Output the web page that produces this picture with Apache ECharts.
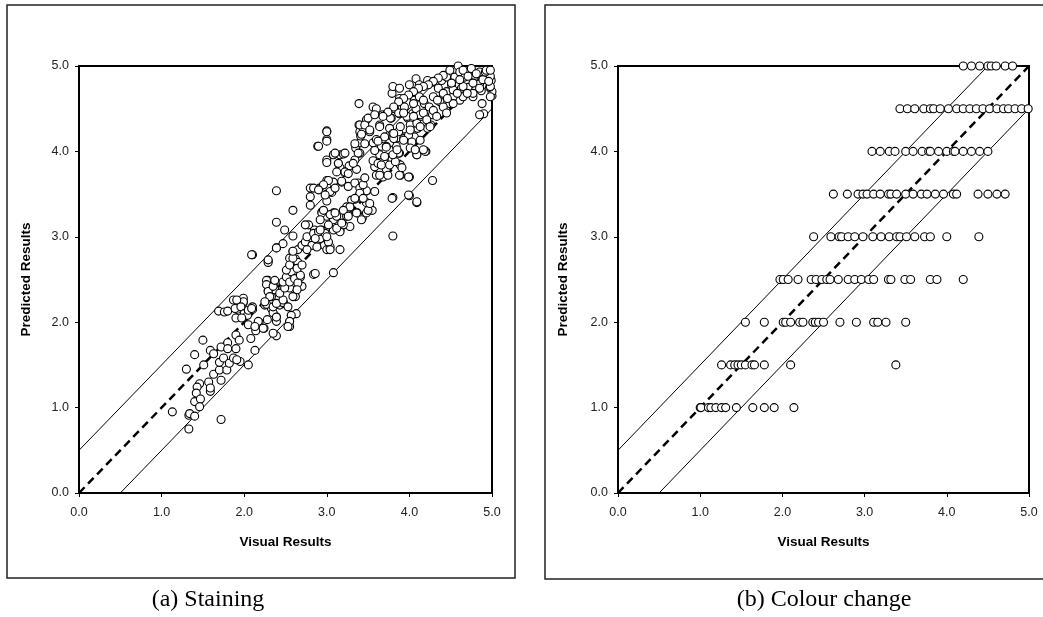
<!DOCTYPE html>
<html>
<head>
<meta charset="utf-8">
<script src="https://cdn.jsdelivr.net/npm/echarts@6/dist/echarts.min.js"></script>
<style>
html,body{margin:0;padding:0;background:#fff;}
#chart{width:1043px;height:617px;}
</style>
</head>
<body>
<div id="chart"></div>
<script>
// ---- Data ----
var axisTicks = [0, 1, 2, 3, 4, 5];
var captionA = "(a) Staining";
var captionB = "(b) Colour change";
var xAxisTitle = "Visual Results";
var yAxisTitle = "Predicted Results";

// Panel (a) Staining: [visual, predicted]
var stainingPoints = [
[1.13,0.95],[1.33,0.91],[1.34,0.93],[1.40,0.90],[1.33,0.75],[1.72,0.86],[1.30,1.45],[1.40,1.62],[1.50,1.79],[1.51,1.50],
[1.46,1.28],[1.43,1.24],[1.42,1.17],[1.40,1.07],[1.47,1.10],[1.46,1.01],[1.57,1.30],[1.59,1.19],[1.59,1.23],[1.59,1.67],
[1.63,1.63],[1.63,1.39],[1.72,1.32],[1.70,1.44],[1.70,1.53],[1.75,1.58],[1.72,1.71],[1.80,1.76],[1.80,1.69],[1.79,1.44],
[1.82,1.52],[1.87,1.58],[1.90,1.69],[1.90,1.85],[1.94,1.79],[1.95,1.54],[1.91,1.56],[2.05,1.50],[2.08,1.81],[2.13,1.67],
[2.14,1.90],[2.24,1.93],[2.39,1.84],[2.18,2.00],[2.05,1.97],[1.99,2.06],[1.90,2.05],[1.91,2.15],[1.99,2.23],[1.69,2.13],
[1.76,2.12],[1.80,2.13],[2.10,2.15],[2.28,2.03],[2.39,2.06],[2.39,2.01],[2.55,1.95],[2.55,2.01],[2.57,2.08],[2.63,2.10],
[2.25,2.20],[2.33,2.16],[2.35,2.11],[2.43,2.20],[2.48,2.22],[2.39,3.54],[2.39,3.17],[2.39,2.87],[2.10,2.79],[2.29,2.72],
[2.29,2.70],[2.59,3.31],[2.49,3.08],[2.59,3.01],[2.89,4.06],[3.00,4.24],[3.00,4.14],[3.00,3.90],[3.00,3.87],[3.39,4.56],
[3.80,3.01],[3.80,3.46],[4.00,3.48],[4.09,3.40],[4.28,3.66],[4.20,4.00],[4.09,3.96],[4.00,3.70],[3.89,3.72],[3.08,2.58],
[2.84,2.56],[4.90,4.44],[4.88,4.56],[5.00,4.65],[5.00,4.70],[2.29,2.49],[2.36,2.44],[2.51,2.50],[2.62,2.30],[2.47,2.23],
[2.55,2.40],[2.68,2.53],[2.70,2.42],[2.53,2.59],[2.59,2.65],[2.65,2.57],[2.55,2.75],[2.62,2.74],[2.65,2.70],[2.59,2.83],
[2.74,2.92],[2.70,2.89],[2.82,2.98],[2.90,3.03],[2.92,2.96],[2.97,2.90],[3.00,2.85],[3.04,2.88],[2.94,3.08],[2.85,3.08],
[3.02,3.12],[3.08,3.08],[3.16,2.85],[3.16,3.08],[3.20,3.14],[2.94,3.29],[3.00,3.24],[3.08,3.28],[3.08,3.20],[3.00,3.42],
[3.00,3.50],[3.06,3.52],[3.09,3.57],[2.80,3.57],[2.91,3.57],[2.80,3.47],[3.00,3.66],[3.08,3.96],[3.14,3.86],[3.16,3.96],
[3.20,3.97],[3.08,3.64],[3.18,3.64],[3.16,3.81],[3.22,3.75],[3.27,3.83],[3.35,4.04],[3.40,4.10],[3.41,4.18],[3.39,4.31],
[3.40,4.23],[3.44,4.27],[3.48,4.37],[3.52,4.23],[3.56,4.52],[3.60,4.50],[3.64,4.31],[3.68,4.43],[3.56,4.10],[3.60,4.14],
[3.66,4.06],[3.40,3.98],[3.34,3.90],[3.36,3.79],[3.38,3.63],[3.44,3.50],[3.48,3.54],[3.40,3.50],[3.34,3.44],[3.28,3.35],
[3.24,3.24],[3.28,3.12],[3.37,3.28],[3.43,3.22],[3.48,3.40],[3.55,3.31],[3.48,3.28],[3.58,3.82],[3.64,3.96],[3.60,3.72],
[3.68,3.70],[3.72,3.79],[3.76,3.93],[3.79,3.90],[3.84,4.06],[3.88,3.98],[3.89,3.84],[3.76,4.10],[3.76,4.27],[3.80,4.21],
[3.88,4.16],[3.94,4.17],[4.00,4.14],[4.06,4.17],[3.72,4.43],[3.78,4.39],[3.82,4.50],[3.88,4.44],[3.94,4.52],[3.98,4.39],
[4.04,4.44],[4.08,4.50],[4.06,4.60],[4.12,4.64],[4.18,4.56],[4.24,4.52],[4.28,4.43],[4.26,4.31],[4.22,4.27],[4.10,4.27],
[4.04,4.33],[4.14,4.41],[3.79,4.68],[3.80,4.76],[3.88,4.74],[3.88,4.62],[4.00,4.78],[4.08,4.85],[4.12,4.78],[4.22,4.83],
[4.28,4.81],[4.35,4.74],[4.39,4.83],[4.45,4.87],[4.51,4.78],[4.55,4.87],[4.59,5.00],[4.61,4.93],[4.67,4.87],[4.73,4.93],
[4.79,4.89],[4.85,4.93],[4.93,4.89],[4.99,4.83],[4.85,4.79],[4.87,4.71],[4.97,4.75],[4.77,4.64],[4.71,4.75],[4.63,4.74],
[4.61,4.60],[4.53,4.64],[4.49,4.56],[4.41,4.64],[4.37,4.58],[4.45,4.70],[4.65,4.95],[4.75,4.97],[1.87,2.26],[1.99,2.28],
[1.99,2.24],[2.10,2.18],[2.27,2.21],[2.33,2.30],[2.37,2.38],[2.29,2.37],[2.31,2.42],[1.91,2.26],[1.89,2.16],[1.96,2.18],
[2.00,2.10],[2.04,2.08],[2.05,2.14],[1.97,2.05],[2.09,2.16],[2.17,2.01],[2.23,1.93],[2.13,1.95],[2.27,2.49],[2.27,2.44],
[2.29,2.36],[2.35,2.42],[2.37,2.49],[2.31,2.30],[2.25,2.24],[2.35,2.18],[2.39,2.22],[2.47,2.26],[2.43,2.34],[2.49,2.40],
[2.47,2.47],[2.51,2.53],[2.57,2.59],[2.55,2.47],[2.61,2.51],[2.65,2.46],[2.68,2.55],[2.64,2.38],[2.59,2.30],[2.53,2.18],
[2.57,2.08],[2.55,2.01],[2.53,1.95],[2.39,2.06],[2.35,1.87],[2.51,2.61],[2.55,2.67],[2.59,2.75],[2.65,2.85],[2.59,2.83],
[2.70,2.90],[2.74,2.94],[2.76,3.00],[2.82,2.90],[2.88,2.88],[2.92,2.98],[2.84,3.04],[2.90,3.06],[2.98,3.04],[3.02,2.94],
[3.04,2.85],[2.78,3.14],[2.76,2.85],[2.86,2.57],[2.64,2.63],[2.70,2.67],[2.47,2.92],[2.39,2.87],[2.29,2.73],[2.09,2.79],
[2.80,3.37],[2.94,3.28],[3.04,3.26],[3.12,3.24],[3.24,3.35],[3.26,3.26],[3.30,3.43],[3.16,3.06],[3.20,3.14],[2.74,3.14],
[3.00,4.23],[3.00,4.12],[2.90,4.06],[3.10,3.98],[3.22,3.98],[3.14,3.86],[3.12,3.76],[3.22,3.76],[3.26,3.74],[3.32,3.86],
[3.38,3.98],[3.40,4.31],[3.46,4.31],[3.42,4.20],[3.34,4.09],[3.46,4.09],[3.52,4.25],[3.50,4.39],[3.58,4.43],[3.64,4.29],
[3.70,4.17],[3.62,4.12],[3.58,4.01],[3.56,3.89],[3.62,3.86],[3.66,3.84],[3.64,3.72],[3.74,3.72],[3.76,3.84],[3.83,3.88],
[3.87,3.98],[3.88,3.72],[3.99,3.70],[3.91,3.81],[3.80,3.96],[3.72,4.06],[3.70,3.94],[3.81,4.15],[3.87,4.23],[3.93,4.15],
[3.99,4.19],[4.03,4.11],[4.09,3.96],[4.19,4.00],[3.77,4.39],[3.87,4.45],[3.97,4.41],[4.01,4.31],[4.09,4.33],[4.13,4.43],
[3.02,3.66],[2.96,3.61],[2.84,3.57],[2.90,3.55],[3.04,3.53],[3.10,3.57],[3.18,3.65],[3.26,3.59],[3.34,3.63],[3.40,3.57],
[3.44,3.61],[3.46,3.69],[3.40,3.51],[3.44,3.45],[3.34,3.45],[3.28,3.35],[3.20,3.31],[3.26,3.24],[3.36,3.28],[3.42,3.20],
[3.50,3.31],[3.52,3.39],[3.58,3.53],[3.79,3.45],[3.99,3.49],[4.09,3.41],[2.98,3.49],[2.96,3.31],[3.10,3.28],[2.92,3.20],
[3.02,3.14],[2.92,3.08],[2.86,2.98],[3.00,3.00],[3.12,3.10],[3.18,3.16],[4.49,4.95],[4.41,4.89],[4.35,4.86],[4.29,4.82],
[4.23,4.78],[4.17,4.76],[4.11,4.74],[4.05,4.70],[3.99,4.66],[3.93,4.62],[3.87,4.58],[3.81,4.52],[3.74,4.46],[3.68,4.41],
[4.05,4.56],[4.17,4.60],[4.29,4.64],[4.41,4.68],[4.53,4.72],[4.65,4.76],[4.77,4.80],[4.89,4.84],[4.98,4.88],[4.92,4.93],
[4.81,4.91],[4.71,4.88],[4.61,4.84],[4.51,4.80],[3.93,4.45],[4.05,4.41],[4.17,4.45],[4.29,4.48],[4.41,4.52],[4.53,4.56],
[4.65,4.64],[4.77,4.68],[4.85,4.74],[4.98,4.76],[3.89,4.29],[4.01,4.25],[4.13,4.29],[4.21,4.37],[4.33,4.41],[4.45,4.45],
[3.81,4.21],[3.93,4.13],[3.72,4.05],[3.85,4.02],[4.01,4.04],[4.13,4.13],[4.85,4.43],[4.98,4.64],[4.25,4.29],[4.17,4.02],
[4.07,4.02],[4.93,4.95],[4.98,4.95],[4.96,4.82],[4.70,4.68],[4.58,4.68],[4.46,4.62],[4.34,4.60]
];

// Panel (b) Colour change: predicted levels and the visual values at each level
var colourLevels = [5.0, 4.5, 4.0, 3.5, 3.0, 2.5, 2.0, 1.5, 1.0];
var colourVisual = [
[4.20,4.30,4.40,4.50,4.54,4.60,4.71,4.80],
[3.43,3.52,3.61,3.72,3.80,3.84,3.92,4.02,4.12,4.20,4.28,4.36,4.44,4.52,4.61,4.69,4.75,4.83,4.91,4.99],
[3.09,3.19,3.30,3.37,3.50,3.59,3.70,3.78,3.80,3.90,4.00,4.08,4.10,4.20,4.30,4.40,4.50],
[2.62,2.79,2.92,2.98,3.03,3.11,3.19,3.29,3.32,3.39,3.50,3.59,3.69,3.76,3.86,3.96,4.08,4.12,4.38,4.50,4.61,4.71],
[2.38,2.59,2.69,2.72,2.80,2.88,2.98,3.10,3.20,3.30,3.39,3.43,3.51,3.61,3.73,3.80,4.00,4.39],
[1.97,2.01,2.07,2.19,2.35,2.41,2.48,2.54,2.58,2.68,2.80,2.88,2.96,3.05,3.11,3.29,3.32,3.49,3.56,3.80,3.88,4.20],
[1.55,1.78,2.01,2.04,2.10,2.21,2.25,2.37,2.40,2.44,2.50,2.70,2.90,3.11,3.16,3.26,3.50],
[1.26,1.37,1.42,1.46,1.50,1.55,1.63,1.66,1.78,2.10,3.38],
[1.00,1.01,1.10,1.13,1.19,1.26,1.31,1.44,1.64,1.78,1.90,2.14]
];

// Reference lines: perfect agreement and +/- 0.5 band
var lineEqual = [[0, 0], [5, 5]];
var lineUpper = [[0, 0.5], [4.5, 5]];
var lineLower = [[0.5, 0], [5, 4.5]];

// ---- Build ----
var colourPoints = [];
colourLevels.forEach(function (lv, i) {
  colourVisual[i].forEach(function (x) { colourPoints.push([x, lv]); });
});

var chart = echarts.init(document.getElementById('chart'), null, {renderer: 'canvas'});

function xAx(gi) {
  return {
    type: 'value', gridIndex: gi, min: 0, max: 5, interval: 1,
    name: xAxisTitle, nameLocation: 'middle', nameGap: 42,
    nameTextStyle: {fontFamily: 'Liberation Sans, Arial', fontWeight: 'bold', fontSize: 13.5, color: '#000'},
    axisLine: {show: true, onZero: false, lineStyle: {color: '#000', width: 2}},
    axisTick: {show: true, inside: false, length: 4, lineStyle: {color: '#000', width: 1}},
    axisLabel: {show: true, margin: 13, fontFamily: 'Liberation Sans, Arial', fontSize: 12.5, color: '#222',
      formatter: function (v) { return v.toFixed(1); }},
    splitLine: {show: false}
  };
}
function yAx(gi, gap) {
  return {
    type: 'value', gridIndex: gi, min: 0, max: 5, interval: 1,
    name: yAxisTitle, nameLocation: 'middle', nameGap: gap, nameRotate: 90,
    nameTextStyle: {fontFamily: 'Liberation Sans, Arial', fontWeight: 'bold', fontSize: 13.5, color: '#000'},
    axisLine: {show: true, onZero: false, lineStyle: {color: '#000', width: 2}},
    axisTick: {show: true, inside: false, length: 4, lineStyle: {color: '#000', width: 1}},
    axisLabel: {show: true, margin: 10, fontFamily: 'Liberation Sans, Arial', fontSize: 12.5, color: '#222',
      formatter: function (v) { return v.toFixed(1); }},
    splitLine: {show: false}
  };
}
function refLines(gi) {
  var base = {type: 'line', xAxisIndex: gi, yAxisIndex: gi, symbol: 'none', silent: true, z: 1, animation: false, clip: false};
  return [
    Object.assign({}, base, {data: lineEqual, lineStyle: {color: '#000', width: 2.5, type: [8, 5]}}),
    Object.assign({}, base, {data: lineUpper, lineStyle: {color: '#000', width: 1}}),
    Object.assign({}, base, {data: lineLower, lineStyle: {color: '#000', width: 1}})
  ];
}
function scatter(gi, pts) {
  return {
    type: 'scatter', xAxisIndex: gi, yAxisIndex: gi, data: pts, symbol: 'circle', symbolSize: 8,
    itemStyle: {color: '#fff', borderColor: '#000', borderWidth: 1.1, opacity: 1},
    z: 3, clip: false, animation: false, silent: true
  };
}

var captionFont = '24px "Liberation Serif", "Times New Roman", serif';
var option = {
  backgroundColor: '#fff',
  animation: false,
  grid: [
    {left: 79, top: 66, width: 413, height: 427, show: true, borderColor: '#000', borderWidth: 2, backgroundColor: 'transparent'},
    {left: 618, top: 66, width: 411, height: 427, show: true, borderColor: '#000', borderWidth: 2, backgroundColor: 'transparent'}
  ],
  xAxis: [xAx(0), xAx(1)],
  yAxis: [yAx(0, 46), yAx(1, 48)],
  graphic: [
    {type: 'rect', shape: {x: 7, y: 5, width: 508, height: 573}, style: {fill: 'none', stroke: '#222', lineWidth: 1.5}, z: -1},
    {type: 'rect', shape: {x: 545, y: 5, width: 510, height: 574}, style: {fill: 'none', stroke: '#222', lineWidth: 1.5}, z: -1},
    {type: 'text', x: 208, y: 600,
      style: {text: captionA, textAlign: 'center', textVerticalAlign: 'middle', font: captionFont, fill: '#000'}},
    {type: 'text', x: 824, y: 600,
      style: {text: captionB, textAlign: 'center', textVerticalAlign: 'middle', font: captionFont, fill: '#000'}}
  ],
  series: [].concat(refLines(0), [scatter(0, stainingPoints)], refLines(1), [scatter(1, colourPoints)])
};
chart.setOption(option);
</script>
</body>
</html>
